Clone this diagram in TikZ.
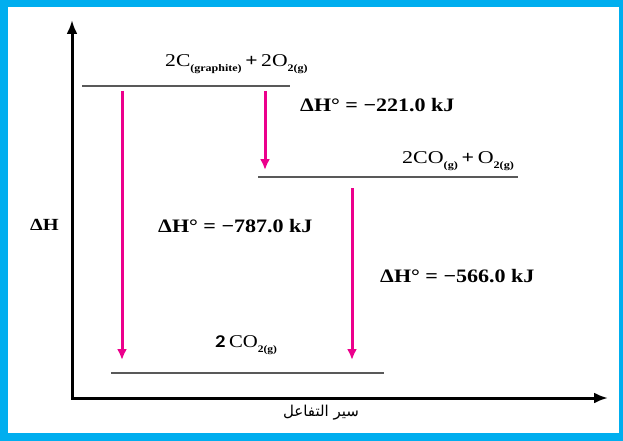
\documentclass[tikz,border=0pt]{standalone}
\usepackage{fontspec}
\usepackage{graphicx}
\setmainfont{Liberation Serif}
\newfontfamily\arabicfont[Script=Arabic]{DejaVu Sans}
\newfontfamily\carlito{Carlito}
\TeXXeTstate=1
\usetikzlibrary{arrows.meta}
\definecolor{frameblue}{RGB}{0,174,239}
\definecolor{mag}{RGB}{236,0,140}
\newcommand{\sbs}[1]{\raisebox{-5pt}{\fontsize{10}{10}\selectfont\bfseries #1}}
\newcommand{\hs}[2]{\scalebox{#1}[1]{#2}}
\begin{document}
\begin{tikzpicture}[x=1pt,y=-1pt,
  level/.style={draw=black!65, line width=1.2pt},
  dharrow/.style={draw=mag, line width=3pt, -{Latex[length=11pt,width=10pt]}},
  axis/.style={line width=3pt, {Latex[length=14pt,width=11pt]}-{Latex[length=14pt,width=11pt]}},
  lbl/.style={inner sep=0pt, font=\fontsize{19}{19}\selectfont\bfseries, anchor=base west},
  form/.style={inner sep=0pt, font=\fontsize{18}{18}\selectfont, anchor=base west}]
\fill[frameblue] (0,0) rectangle (623,441);
\fill[white] (8,7) rectangle (619,433);
\useasboundingbox (0,0) rectangle (623,441);
% axes
\coordinate (ytip) at (72,20);
\coordinate (orig) at (72,398);
\coordinate (xtip) at (608,398);
\draw[axis] (ytip) -- (orig) -- (xtip);
% levels
\coordinate (l1a) at (82,86);  \coordinate (l1b) at (290,86);
\coordinate (l2a) at (258,177); \coordinate (l2b) at (518,177);
\coordinate (l3a) at (111,373); \coordinate (l3b) at (384,373);
\draw[level] (l1a) -- (l1b);
\draw[level] (l2a) -- (l2b);
\draw[level] (l3a) -- (l3b);
% arrows
\coordinate (a1s) at (122,91);  \coordinate (a1e) at (122,360);
\coordinate (a2s) at (265,91);  \coordinate (a2e) at (265,170);
\coordinate (a3s) at (352,188); \coordinate (a3e) at (352,360);
\draw[dharrow] (a1s) -- (a1e);
\draw[dharrow] (a2s) -- (a2e);
\draw[dharrow] (a3s) -- (a3e);
% species
\node[form] (top) at (165,67) {\hs{1.2}{2C\sbs{(graphite)}\,\textbf{+}\,2O\sbs{2(g)}}};
\node[form] (mid) at (402,163) {\hs{1.22}{2CO\sbs{(g)}\,\textbf{+}\,O\sbs{2(g)}}};
\node[form] (bot) at (215,347) {\hs{1.15}{{\carlito\bfseries 2}\,CO\sbs{2(g)}}};
% enthalpy labels
\node[lbl] (h1) at (300,111) {\hs{1.16}{ΔH° = −221.0 kJ}};
\node[lbl] (h2) at (158,232) {\hs{1.16}{ΔH° = −787.0 kJ}};
\node[lbl] (h3) at (380,282) {\hs{1.16}{ΔH° = −566.0 kJ}};
\node[inner sep=0pt, anchor=base west, font=\fontsize{17}{17}\selectfont\bfseries] (dh) at (30,230) {\hs{1.2}{ΔH}};
\node[inner sep=0pt, anchor=base, font=\fontsize{15}{15}\selectfont\arabicfont] (rx) at (321,416) {\beginR سير التفاعل\endR};
\end{tikzpicture}
\end{document}
